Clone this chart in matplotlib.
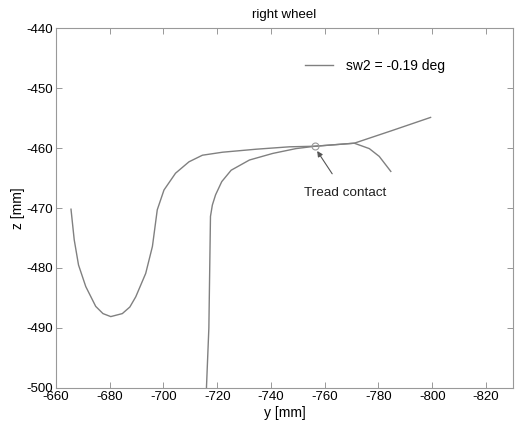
import numpy as np
import matplotlib
matplotlib.use("Agg")
import matplotlib.pyplot as plt

plt.rcParams['font.family'] = ['Liberation Sans', 'DejaVu Sans']
plt.rcParams['axes.unicode_minus'] = False

# first trace (U-shaped dip, then rising to the right)
y1 = [-665.6, -666.8, -668.4, -671.1, -674.8, -677.5, -680.4, -684.7, -687.5,
      -689.7, -693.4, -695.9, -697.7, -700.2, -704.5, -709.5, -714.5, -722.0,
      -734.5, -746.9, -756.5, -771.0, -785.0, -799.4]
z1 = [-470.2, -475.3, -479.5, -483.1, -486.4, -487.6, -488.1, -487.6, -486.5,
      -484.8, -480.9, -476.4, -470.3, -467.0, -464.2, -462.3, -461.2, -460.7,
      -460.2, -459.8, -459.7, -459.2, -457.1, -454.9]

# second trace (rising from bottom, curling down at the right)
y2 = [-716.0, -716.9, -717.5, -718.2, -719.4, -721.7, -725.2, -732.0, -740.7,
      -749.3, -756.5, -771.0, -776.6, -780.3, -784.6]
z2 = [-500.0, -490.0, -471.4, -469.5, -467.8, -465.6, -463.7, -462.0, -460.9,
      -460.1, -459.7, -459.2, -460.1, -461.4, -463.9]

contact_y = -756.5
contact_z = -459.7

fig = plt.figure(figsize=(5.18, 4.22), dpi=100)
ax = fig.add_axes([0.108, 0.0806, 0.882, 0.853])

col = '#808080'
ax.plot(y1, z1, color=col, lw=1.0, label='sw2 = -0.19 deg')
ax.plot(y2, z2, color=col, lw=1.0)
ax.plot([contact_y], [contact_z], 'o', mfc='none', mec='#999999', ms=5, mew=0.8)

ax.annotate('Tread contact', xy=(-757.2, -460.5), xytext=(-767.5, -467.5),
            ha='center', va='center', fontsize=9.7, color='#222222',
            arrowprops=dict(arrowstyle='-|>', color='#555555', lw=0.8,
                            mutation_scale=8, shrinkA=9, shrinkB=0))

ax.set_xlim(-660, -830)
ax.set_ylim(-500, -440)
ax.set_xticks(np.arange(-660, -821, -20))
ax.set_yticks(np.arange(-500, -439, 10))
ax.tick_params(direction='in', top=True, right=True, labelsize=9.5, length=4,
               width=0.6, color='#888888', pad=2)
for s in ax.spines.values():
    s.set_color('#999999')
    s.set_linewidth(0.8)

ax.set_xlabel('y [mm]', fontsize=10, labelpad=2)
ax.set_ylabel('z [mm]', fontsize=10, labelpad=1)
ax.set_title('right wheel', fontsize=9.5, pad=7)

leg = ax.legend(loc='upper right', bbox_to_anchor=(0.88, 0.95), frameon=False,
                fontsize=10, handlelength=2.0, handletextpad=1.0)

fig.savefig('out.png', dpi=100)
